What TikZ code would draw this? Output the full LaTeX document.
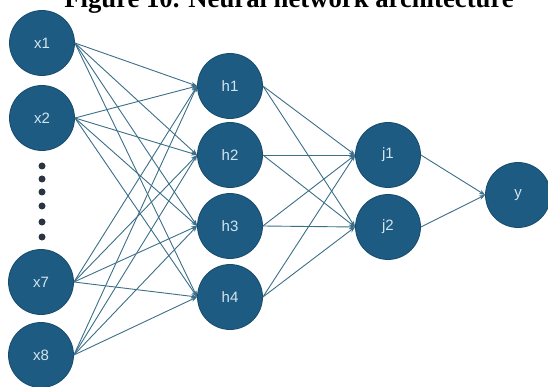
\documentclass[tikz,border=0pt]{standalone}
\usepackage{fontspec}
\setmainfont{Liberation Serif}
\setsansfont{Liberation Sans}
\usetikzlibrary{arrows.meta}
\definecolor{nodefill}{HTML}{1D5B82}
\definecolor{nodeedge}{HTML}{174C6C}
\definecolor{edgecol}{HTML}{3B6E88}
\definecolor{labelcol}{HTML}{D5E5EE}
\definecolor{dotcol}{HTML}{2B3440}
\begin{document}
\begin{tikzpicture}[x=1pt,y=-1pt,
  neuron/.style={circle, fill=nodefill, draw=nodeedge, line width=0.8pt,
    minimum size=65pt, inner sep=0pt,
    font=\sffamily\fontsize{15}{18}\selectfont, text=labelcol},
  conn/.style={draw=edgecol, line width=0.9pt, -{Stealth[length=6pt,width=4.5pt]}},
  dotmark/.style={circle, fill=dotcol, minimum size=7pt, inner sep=0pt}]
\useasboundingbox (0,0) rectangle (548,387);
\node[font=\bfseries\fontsize{26.7}{30}\selectfont, anchor=base, inner sep=0pt] (title) at (289,8) {Figure 10. Neural network architecture};
% input layer
\node[neuron] (x1) at (42,43) {x1};
\node[neuron] (x2) at (42,118) {x2};
\node[neuron] (x7) at (41,282) {x7};
\node[neuron] (x8) at (41,355) {x8};
\node[dotmark] (d1) at (42,166) {};
\node[dotmark] (d2) at (42,179) {};
\node[dotmark] (d3) at (42,192) {};
\node[dotmark] (d4) at (42,206) {};
\node[dotmark] (d5) at (42,222) {};
\node[dotmark] (d6) at (42,237) {};
% hidden layer 1
\node[neuron] (h1) at (230,86) {h1};
\node[neuron] (h2) at (230,155) {h2};
\node[neuron] (h3) at (230,226) {h3};
\node[neuron] (h4) at (230,297) {h4};
% hidden layer 2
\node[neuron] (j1) at (388,155) {j1};
\node[neuron] (j2) at (388,227) {j2};
% output
\node[neuron] (y) at (518,195) {y};
% connections
\foreach \s in {x1,x2,x7,x8}{
  \foreach \t in {h1,h2,h3,h4}{
    \draw[conn] (\s.east) -- (\t.west);
  }
}
\foreach \s in {h1,h2,h3,h4}{
  \foreach \t in {j1,j2}{
    \draw[conn] (\s.east) -- (\t.west);
  }
}
\draw[conn] (j1.east) -- (y.west);
\draw[conn] (j2.east) -- (y.west);
\end{tikzpicture}
\end{document}
